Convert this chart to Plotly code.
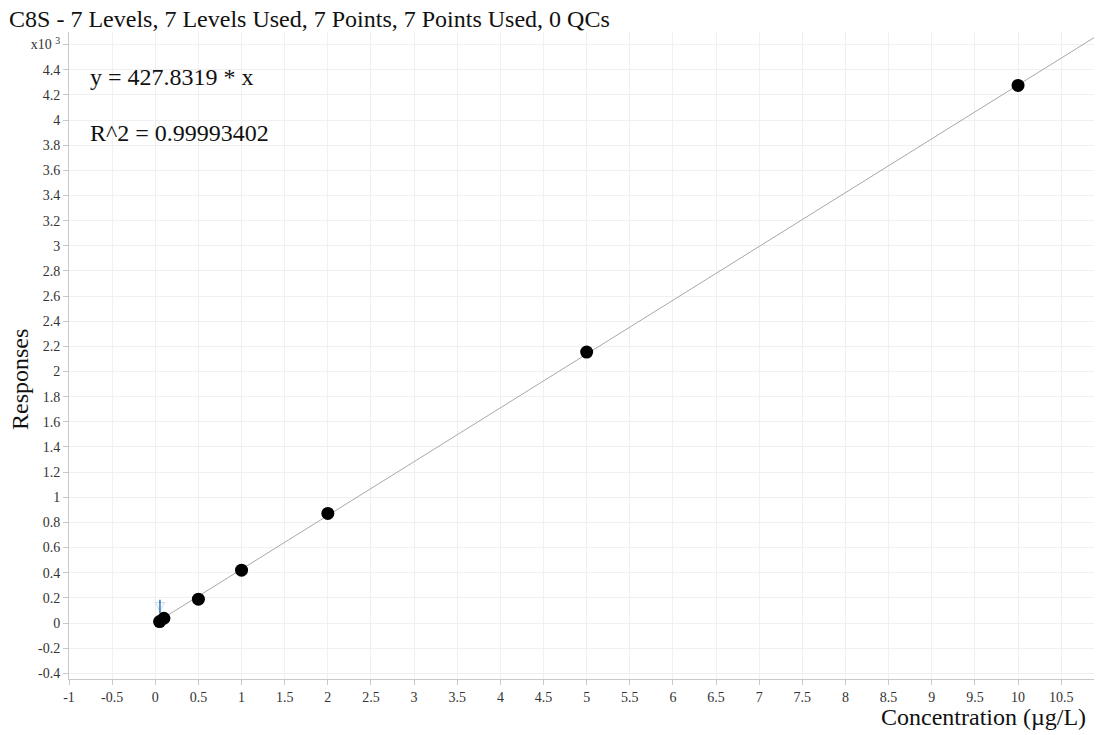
import plotly.graph_objects as go

# ---- data ----
concentrations = [0.05, 0.1, 0.5, 1, 2, 5, 10]          # µg/L
responses = [12, 38, 190, 420, 872, 2155, 4275]          # raw responses
slope = 427.8319
r_squared = "0.99993402"
fit_x = [0, 10.9]
marker_x = [0.054, 0.054]
marker_y = [80, 185]
x_tickvals = [-1, -0.5, 0, 0.5, 1, 1.5, 2, 2.5, 3, 3.5, 4, 4.5, 5, 5.5, 6, 6.5, 7, 7.5, 8, 8.5, 9, 9.5, 10, 10.5]
x_ticktext = ["-1", "-0.5", "0", "0.5", "1", "1.5", "2", "2.5", "3", "3.5", "4", "4.5", "5", "5.5",
              "6", "6.5", "7", "7.5", "8", "8.5", "9", "9.5", "10", "10.5"]
y_tickvals = [-0.4, -0.2, 0, 0.2, 0.4, 0.6, 0.8, 1, 1.2, 1.4, 1.6, 1.8, 2, 2.2, 2.4, 2.6, 2.8, 3,
              3.2, 3.4, 3.6, 3.8, 4, 4.2, 4.4, 4.6]
y_ticktext = ["-0.4", "-0.2", "0", "0.2", "0.4", "0.6", "0.8", "1", "1.2", "1.4", "1.6", "1.8", "2",
              "2.2", "2.4", "2.6", "2.8", "3", "3.2", "3.4", "3.6", "3.8", "4", "4.2", "4.4",
              "x10 <sup>3</sup>"]
title_text = "C8S - 7 Levels, 7 Levels Used, 7 Points, 7 Points Used, 0 QCs"
scale = 1000.0

FONT = "Liberation Serif, Times New Roman, serif"
OFF = 8  # page body margin offset

fit_y = [slope * x / scale for x in fit_x]
resp_k = [r / scale for r in responses]

fig = go.Figure()
fig.add_trace(go.Scatter(x=fit_x, y=fit_y, mode="lines",
                         line=dict(color="#a8a8a8", width=1), hoverinfo="skip", showlegend=False))
fig.add_trace(go.Scatter(x=[marker_x[0]], y=[marker_y[0] / scale + 0.012], mode="markers",
                         marker=dict(color="#c5dbee", size=9, symbol="arrow-down-open",
                                     line=dict(width=1, color="#c5dbee")),
                         showlegend=False))
fig.add_trace(go.Scatter(x=marker_x, y=[v / scale for v in marker_y], mode="lines",
                         line=dict(color="#2e75b6", width=1.5), showlegend=False))
fig.add_trace(go.Scatter(x=concentrations, y=resp_k, mode="markers",
                         marker=dict(color="black", size=13, symbol="circle"), showlegend=False))

fig.update_layout(
    width=1102, height=735,
    margin=dict(l=69 - OFF, r=1102 - 1100 + OFF, t=32 - OFF, b=735 - 679 + OFF, autoexpand=False),
    paper_bgcolor="white", plot_bgcolor="white",
    font=dict(family=FONT, color="#222222"),
    title=dict(text=title_text, x=0.001, xanchor="left", xref="container",
               y=1 - (19 - OFF) / 735, yanchor="middle", yref="container",
               font=dict(family=FONT, size=24, color="#111111")),
    xaxis=dict(range=[-1, 10.95], tickvals=x_tickvals, ticktext=x_ticktext, automargin=False,
               showgrid=True, gridcolor="#f0f0f0", gridwidth=1, zeroline=False,
               showline=True, linecolor="#c8c8c8", linewidth=1,
               ticks="outside", ticklen=5, tickcolor="#c8c8c8",
               tickfont=dict(family=FONT, size=14, color="#333333")),
    yaxis=dict(range=[-0.445, 4.70], tickvals=y_tickvals, ticktext=y_ticktext, automargin=False,
               showgrid=True, gridcolor="#f0f0f0", gridwidth=1, zeroline=False,
               showline=True, linecolor="#c8c8c8", linewidth=1,
               ticks="outside", ticklen=5, tickcolor="#c8c8c8",
               tickfont=dict(family=FONT, size=14, color="#333333")),
)

fig.add_annotation(xref="paper", yref="paper", x=(88 - 69) / 1031, y=1 - (77 - 32) / 647,
                   xanchor="left", yanchor="middle", showarrow=False,
                   text=f"y = {slope} * x", font=dict(family=FONT, size=24, color="#111111"))
fig.add_annotation(xref="paper", yref="paper", x=(88 - 69) / 1031, y=1 - (133 - 32) / 647,
                   xanchor="left", yanchor="middle", showarrow=False,
                   text=f"R^2 = {r_squared}", font=dict(family=FONT, size=24, color="#111111"))
fig.add_annotation(xref="paper", yref="paper", x=1 - (1100 - 1088) / 1031, y=-(717 - 679) / 647,
                   xanchor="right", yanchor="middle", showarrow=False,
                   text="Concentration (µg/L)", font=dict(family=FONT, size=24, color="#111111"))
fig.add_annotation(xref="paper", yref="paper", x=-(69 - 20) / 1031, y=(679 - 380) / 647,
                   xanchor="center", yanchor="middle", showarrow=False, textangle=-90,
                   text="Responses", font=dict(family=FONT, size=24, color="#111111"))

fig.write_html("out.html")
